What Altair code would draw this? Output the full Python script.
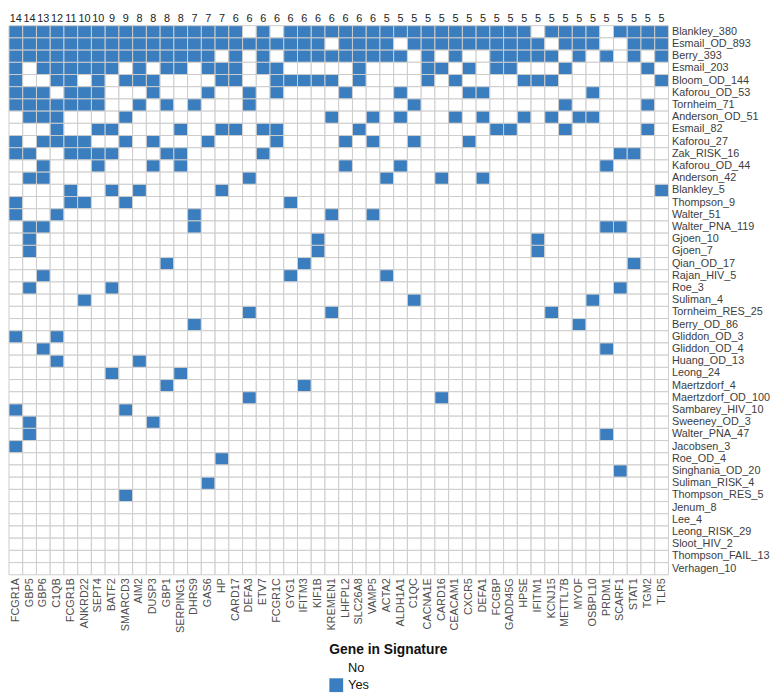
import altair as alt
import pandas as pd

genes = ["FCGR1A", "GBP5", "GBP6", "C1QB", "FCGR1B", "ANKRD22", "SEPT4", "BATF2",
         "SMARCD3", "AIM2", "DUSP3", "GBP1", "SERPING1", "DHRS9", "GAS6", "HP",
         "CARD17", "DEFA3", "ETV7", "FCGR1C", "GYG1", "IFITM3", "KIF1B", "KREMEN1",
         "LHFPL2", "SLC26A8", "VAMP5", "ACTA2", "ALDH1A1", "C1QC", "CACNA1E", "CARD16",
         "CEACAM1", "CXCR5", "DEFA1", "FCGBP", "GADD45G", "HPSE", "IFITM1", "KCNJ15",
         "METTL7B", "MYOF", "OSBPL10", "PRDM1", "SCARF1", "STAT1", "TGM2", "TLR5"]

gene_counts = [14, 14, 13, 12, 11, 10, 10, 9, 9, 8, 8, 8, 8, 7, 7, 7,
               6, 6, 6, 6, 6, 6, 6, 6, 6, 6, 6,
               5, 5, 5, 5, 5, 5, 5, 5, 5, 5, 5, 5, 5, 5, 5, 5, 5, 5, 5, 5, 5]

signatures = ["Blankley_380", "Esmail_OD_893", "Berry_393", "Esmail_203", "Bloom_OD_144",
              "Kaforou_OD_53", "Tornheim_71", "Anderson_OD_51", "Esmail_82", "Kaforou_27",
              "Zak_RISK_16", "Kaforou_OD_44", "Anderson_42", "Blankley_5", "Thompson_9",
              "Walter_51", "Walter_PNA_119", "Gjoen_10", "Gjoen_7", "Qian_OD_17",
              "Rajan_HIV_5", "Roe_3", "Suliman_4", "Tornheim_RES_25", "Berry_OD_86",
              "Gliddon_OD_3", "Gliddon_OD_4", "Huang_OD_13", "Leong_24", "Maertzdorf_4",
              "Maertzdorf_OD_100", "Sambarey_HIV_10", "Sweeney_OD_3", "Walter_PNA_47",
              "Jacobsen_3", "Roe_OD_4", "Singhania_OD_20", "Suliman_RISK_4",
              "Thompson_RES_5", "Jenum_8", "Lee_4", "Leong_RISK_29", "Sloot_HIV_2",
              "Thompson_FAIL_13", "Verhagen_10"]

# genes (column indices into `genes`) present in each signature
members = {
    "Blankley_380": [0, 1, 2, 3, 4, 5, 6, 7, 8, 9, 10, 11, 12, 13, 14, 15, 16, 18, 20, 21,
                     22, 23, 24, 25, 26, 27, 28, 29, 30, 31, 32, 33, 34, 35, 36, 37, 39,
                     40, 41, 42, 44, 45, 46, 47],
    "Esmail_OD_893": [0, 1, 2, 3, 4, 5, 6, 7, 8, 9, 10, 11, 12, 13, 14, 15, 16, 17, 18, 19,
                      20, 21, 22, 24, 25, 26, 27, 29, 30, 31, 32, 33, 34, 35, 36, 37, 38,
                      40, 41, 42, 45, 46, 47],
    "Berry_393": [0, 1, 2, 3, 4, 5, 6, 7, 8, 9, 10, 11, 12, 13, 14, 16, 18, 20, 21, 22, 23,
                  24, 25, 26, 27, 28, 30, 32, 35, 36, 37, 38, 39, 41, 43, 45, 47],
    "Esmail_203": [0, 2, 3, 4, 5, 6, 7, 9, 11, 12, 14, 15, 16, 18, 19, 25, 30, 31, 33, 35,
                   36, 40, 46],
    "Bloom_OD_144": [0, 3, 4, 6, 8, 9, 10, 15, 16, 19, 20, 21, 22, 23, 25, 30, 32, 37, 38,
                     39, 47],
    "Kaforou_OD_53": [0, 1, 2, 4, 5, 6, 10, 14, 17, 19, 24, 28, 33, 34, 42],
    "Tornheim_71": [0, 1, 2, 3, 4, 5, 6, 9, 11, 13, 17, 29, 40, 46],
    "Anderson_OD_51": [1, 2, 3, 8, 23, 26, 28, 32, 34, 37, 39, 41, 42],
    "Esmail_82": [3, 6, 7, 12, 15, 16, 18, 19, 25, 35, 36, 40, 46],
    "Kaforou_27": [0, 2, 3, 4, 5, 8, 10, 14, 19, 24, 26, 29, 33],
    "Zak_RISK_16": [0, 1, 4, 5, 6, 7, 11, 12, 18, 44, 45],
    "Kaforou_OD_44": [2, 6, 10, 12, 24, 28, 43],
    "Anderson_42": [1, 2, 17, 27, 31, 34],
    "Blankley_5": [4, 7, 9, 15, 47],
    "Thompson_9": [0, 4, 5, 8, 20],
    "Walter_51": [0, 3, 13, 23, 26],
    "Walter_PNA_119": [1, 2, 13, 43, 44],
    "Gjoen_10": [1, 22, 38],
    "Gjoen_7": [1, 22, 38],
    "Qian_OD_17": [11, 21, 45],
    "Rajan_HIV_5": [2, 20, 27],
    "Roe_3": [1, 7, 44],
    "Suliman_4": [5, 29, 42],
    "Tornheim_RES_25": [17, 23, 39],
    "Berry_OD_86": [13, 41],
    "Gliddon_OD_3": [0, 3],
    "Gliddon_OD_4": [2, 43],
    "Huang_OD_13": [3, 9],
    "Leong_24": [7, 12],
    "Maertzdorf_4": [11, 21],
    "Maertzdorf_OD_100": [17, 31],
    "Sambarey_HIV_10": [0, 8],
    "Sweeney_OD_3": [1, 10],
    "Walter_PNA_47": [1, 43],
    "Jacobsen_3": [0],
    "Roe_OD_4": [15],
    "Singhania_OD_20": [44],
    "Suliman_RISK_4": [14],
    "Thompson_RES_5": [8],
    "Jenum_8": [],
    "Lee_4": [],
    "Leong_RISK_29": [],
    "Sloot_HIV_2": [],
    "Thompson_FAIL_13": [],
    "Verhagen_10": [],
}

rows = []
for s in signatures:
    present = set(members[s])
    for i, g in enumerate(genes):
        rows.append({"signature": s, "gene": g,
                     "in_sig": "Yes" if i in present else "No"})
df = pd.DataFrame(rows)
count_df = pd.DataFrame({"gene": genes, "count": gene_counts})

FONT = "Liberation Sans"
BLUE = "#3a7ebf"

heat = alt.Chart(df).mark_rect(stroke="#cccccc", strokeWidth=1).encode(
    x=alt.X("gene:N", sort=genes, title=None,
            scale=alt.Scale(paddingInner=0, paddingOuter=0),
            axis=alt.Axis(orient="bottom", labelAngle=270, domain=False, ticks=False,
                          grid=False, labelFontSize=11, labelColor="#4d4d4d",
                          labelPadding=3, labelFont=FONT, labelLimit=200)),
    y=alt.Y("signature:N", sort=signatures, title=None,
            scale=alt.Scale(paddingInner=0, paddingOuter=0),
            axis=alt.Axis(orient="right", domain=False, ticks=False, grid=False,
                          labelFontSize=11, labelColor="#3d3d3d", labelPadding=3,
                          labelFont=FONT, labelLimit=200)),
    color=alt.Color("in_sig:N",
                    scale=alt.Scale(domain=["No", "Yes"], range=["#ffffff", BLUE]),
                    legend=alt.Legend(title="Gene in Signature", orient="none",
                                      legendX=325, legendY=626,
                                      titleFontSize=14, titleFontWeight="bold",
                                      titleColor="#111111", titleFont=FONT,
                                      titlePadding=5,
                                      labelFontSize=13, labelColor="#111111",
                                      labelFont=FONT, labelOffset=5,
                                      symbolType="square", symbolSize=196,
                                      symbolStrokeWidth=0, rowPadding=3)),
)

counts = alt.Chart(count_df).mark_text(fontSize=11, font=FONT, color="#222222",
                                        baseline="middle").encode(
    x=alt.X("gene:N", sort=genes, title=None),
    y=alt.value(-7),
    text=alt.Text("count:Q"),
)

chart = alt.layer(heat, counts).properties(
    width=669, height=557, padding={"left": 0, "top": 0, "right": 0, "bottom": 0}
).configure_view(stroke=None)

chart.save("out.html", embed_options={"renderer": "svg", "actions": False})
